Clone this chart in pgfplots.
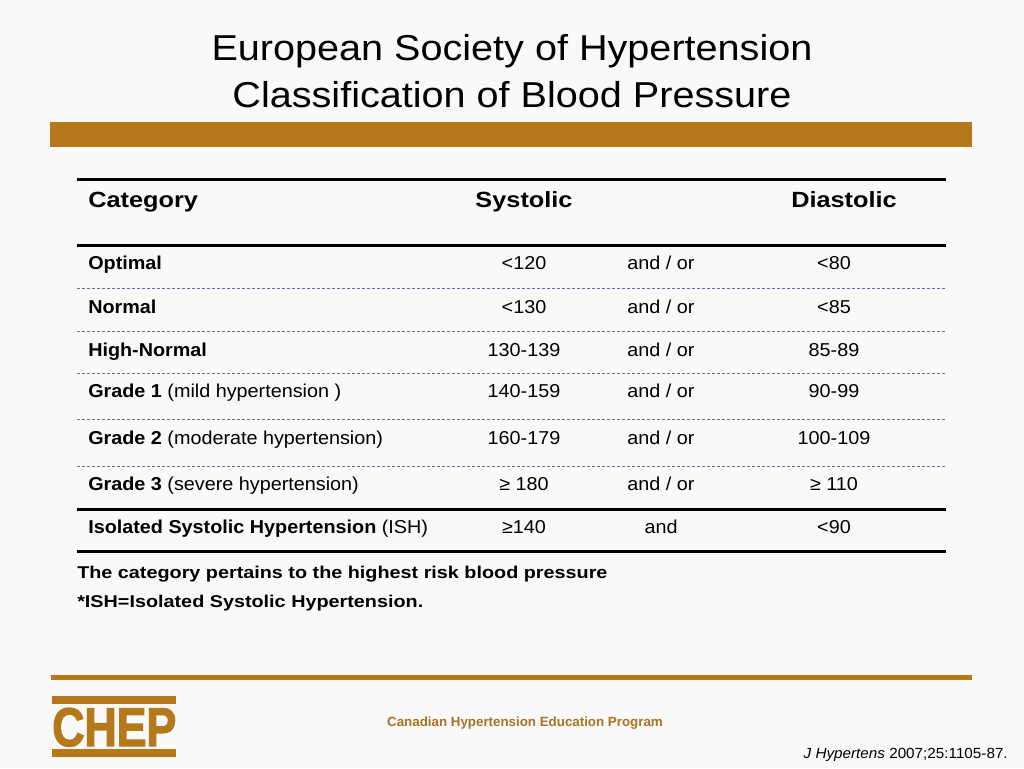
\documentclass[border=0pt]{standalone}
\usepackage{pgfplots}
\pgfplotsset{compat=1.18}
\usepackage{fontspec}
\setmainfont{Liberation Sans}
\newfontfamily\chepfont[FakeBold=2.5]{Liberation Sans Bold}
\definecolor{gold}{RGB}{181,121,27}
\definecolor{golddk}{RGB}{170,115,35}
\definecolor{dashc}{RGB}{105,105,175}
\definecolor{bg}{RGB}{249,249,249}
\newcommand{\fs}[1]{\fontsize{#1}{1.2\dimexpr#1\relax}\selectfont}
\newcommand{\rt}[1]{\scalebox{1.06}[1]{\fs{14pt}#1}}
\newcommand{\row}[5]{%
  \node[anchor=base west, inner sep=0pt] at (88,#1) {\rt{#2}};
  \node[anchor=base, inner sep=0pt] at (524,#1) {\rt{#3}};
  \node[anchor=base, inner sep=0pt] at (661,#1) {\rt{#4}};
  \node[anchor=base, inner sep=0pt] at (834,#1) {\rt{#5}};
}
\begin{document}
\begin{tikzpicture}
\begin{axis}[scale only axis, width=768pt, height=576pt,
  xmin=0, xmax=1024, ymin=0, ymax=768, y dir=reverse,
  hide axis, clip=false]
% background
\addplot[fill=bg, draw=none] coordinates {(0,0)(1024,0)(1024,768)(0,768)} -- cycle;
% gold bars
\addplot[fill=gold, draw=none] coordinates {(50,122)(972,122)(972,147)(50,147)} -- cycle;
\addplot[fill=gold, draw=none] coordinates {(51,675)(972,675)(972,680)(51,680)} -- cycle;
\addplot[fill=gold, draw=none] coordinates {(52,696)(176,696)(176,704)(52,704)} -- cycle;
\addplot[fill=gold, draw=none] coordinates {(52,749)(176,749)(176,757)(52,757)} -- cycle;
% solid rules
\addplot[black, line width=2.25pt] coordinates {(77,179)(946,179)};
\addplot[black, line width=2.25pt] coordinates {(77,245)(946,245)};
\addplot[black, line width=2.25pt] coordinates {(77,509)(946,509)};
\addplot[black, line width=2.25pt] coordinates {(77,551)(946,551)};
% dashed rules
\addplot[dashc, line width=0.75pt, dash pattern=on 2.25pt off 1.5pt] coordinates {(77,288)(946,288)};
\addplot[dashc, line width=0.75pt, dash pattern=on 2.25pt off 1.5pt] coordinates {(77,331)(946,331)};
\addplot[dashc, line width=0.75pt, dash pattern=on 2.25pt off 1.5pt] coordinates {(77,373)(946,373)};
\addplot[dashc, line width=0.75pt, dash pattern=on 2.25pt off 1.5pt] coordinates {(77,419)(946,419)};
\addplot[dashc, line width=0.75pt, dash pattern=on 2.25pt off 1.5pt] coordinates {(77,466)(946,466)};
% title
\node[anchor=base, inner sep=0pt] at (512,60) {\scalebox{1.1}[1]{\fs{27pt}European Society of Hypertension}};
\node[anchor=base, inner sep=0pt] at (512,107) {\scalebox{1.1}[1]{\fs{27pt}Classification of Blood Pressure}};
% header
\node[anchor=base west, inner sep=0pt] at (88,207) {\scalebox{1.15}[1]{\fs{16.5pt}\bfseries Category}};
\node[anchor=base, inner sep=0pt] at (524,207) {\scalebox{1.15}[1]{\fs{16.5pt}\bfseries Systolic}};
\node[anchor=base, inner sep=0pt] at (844,207) {\scalebox{1.15}[1]{\fs{16.5pt}\bfseries Diastolic}};
% rows
\row{269}{\textbf{Optimal}}{<120}{and / or}{<80}
\row{313}{\textbf{Normal}}{<130}{and / or}{<85}
\row{356}{\textbf{High-Normal}}{130-139}{and / or}{85-89}
\row{397}{\textbf{Grade 1} (mild hypertension )}{140-159}{and / or}{90-99}
\row{444}{\textbf{Grade 2} (moderate hypertension)}{160-179}{and / or}{100-109}
\row{490}{\textbf{Grade 3} (severe hypertension)}{≥ 180}{and / or}{≥ 110}
\row{533}{\textbf{Isolated Systolic Hypertension} (ISH)}{≥140}{and}{<90}
% notes
\node[anchor=base west, inner sep=0pt] at (77,578) {\scalebox{1.16}[1]{\fs{12.8pt}\bfseries The category pertains to the highest risk blood pressure}};
\node[anchor=base west, inner sep=0pt] at (77,607) {\scalebox{1.16}[1]{\fs{12.8pt}\bfseries *ISH=Isolated Systolic Hypertension.}};
% logo
\node[anchor=base west, inner sep=0pt, text=gold] at (52,746) {\resizebox{93pt}{28.5pt}{\chepfont CHEP}};
\node[anchor=base, inner sep=0pt, text=golddk] at (525,726) {\fs{10pt}\bfseries Canadian Hypertension Education Program};
\node[anchor=base east, inner sep=0pt] at (1008,758) {\scalebox{1.04}[1]{\fs{11pt}\textit{J Hypertens} 2007;25:1105-87.}};
\end{axis}
\end{tikzpicture}
\end{document}
